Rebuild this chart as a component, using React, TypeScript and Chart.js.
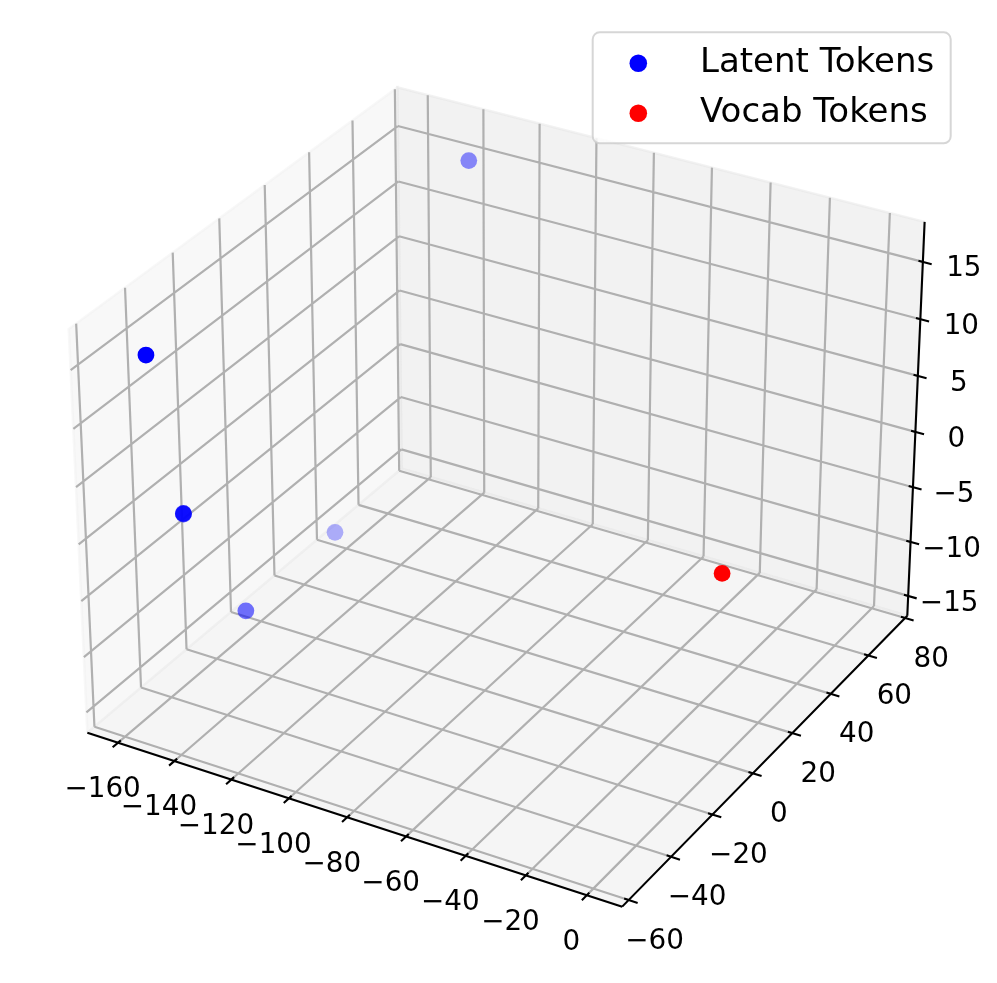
import React, { useEffect, useRef } from 'react';
import { Chart, registerables } from 'chart.js';

Chart.register(...registerables);

// ---------------- data ----------------
const latentX = [-149.6, -159.9, -150.9, -162.7, -154.3, -140.4];
const latentY = [-57.3, -32.3, -42.9, 38.1, -13.5, 74.6];
const latentZ = [16.9, -1.6, 0.9, -15.2, -13.1, 14.8];

const vocabX = [3.2];
const vocabY = [-5.3];
const vocabZ = [1.15];

const xTicks = [-160, -140, -120, -100, -80, -60, -40, -20, 0];
const yTicks = [-60, -40, -20, 0, 20, 40, 60, 80];
const zTicks = [-15, -10, -5, 0, 5, 10, 15];

const xLim = [-171, 11.5];
const yLim = [-63, 81.2];
const zLim = [-16.85, 18.45];

const seriesNames = ['Latent Tokens', 'Vocab Tokens'];
const seriesRGB = ['0,0,255', '255,0,0'];

// ---------------- view / layout ----------------
const W = 997;
const H = 983;
const ELEV = 30;
const AZIM = -60;
const DIST = 10;
const CX = 504.6;
const CY = 478.1;
const SX = 5363;
const SY = 5368;
const TICK_FONT = 27.8;
const LEGEND_FONT = 34;
const FONT_FAMILY = '"DejaVu Sans", "Liberation Sans", sans-serif';

type V3 = [number, number, number];
const dot = (a: number[], b: number[]) => a[0] * b[0] + a[1] * b[1] + a[2] * b[2];
const cross = (a: number[], b: number[]): V3 => [
  a[1] * b[2] - a[2] * b[1],
  a[2] * b[0] - a[0] * b[2],
  a[0] * b[1] - a[1] * b[0],
];
const unit = (a: number[]): V3 => {
  const n = Math.hypot(a[0], a[1], a[2]);
  return [a[0] / n, a[1] / n, a[2] / n];
};

const boxK = 1.8294640721620434 / Math.hypot(4, 4, 3);
const HALF = [2 * boxK, 2 * boxK, 1.5 * boxK];
const elR = (ELEV * Math.PI) / 180;
const azR = (AZIM * Math.PI) / 180;
const VW: V3 = [Math.cos(elR) * Math.cos(azR), Math.cos(elR) * Math.sin(azR), Math.sin(elR)];
const VU = unit(cross([0, 0, 1], VW));
const VV = cross(VW, VU);

function project(x: number, y: number, z: number) {
  const q = [
    ((2 * (x - xLim[0])) / (xLim[1] - xLim[0]) - 1) * HALF[0],
    ((2 * (y - yLim[0])) / (yLim[1] - yLim[0]) - 1) * HALF[1],
    ((2 * (z - zLim[0])) / (zLim[1] - zLim[0]) - 1) * HALF[2],
  ];
  const depth = dot(VW, q);
  const den = DIST - depth;
  return { x: dot(VU, q) / den, y: dot(VV, q) / den, depth };
}

const P = (x: number, y: number, z: number) => {
  const p = project(x, y, z);
  return { x: p.x, y: p.y };
};
const GAP = { x: null as any, y: null as any };

function segs(list: [V3, V3][]) {
  const out: any[] = [];
  list.forEach(([a, b]) => {
    out.push(P(a[0], a[1], a[2]));
    out.push(P(b[0], b[1], b[2]));
    out.push(GAP);
  });
  return out;
}

const [x0, x1] = xLim;
const [y0, y1] = yLim;
const [z0, z1] = zLim;
const dx = 0.08 * (x1 - x0);
const dy = 0.08 * (y1 - y0);

const fmt = (v: number) => (v < 0 ? '\u2212' + Math.abs(v) : String(v));

function buildDatasets() {
  const poly = (pts: V3[]) => [...pts, pts[0]].map((p) => P(p[0], p[1], p[2]));
  const paneX = poly([[x0, y0, z0], [x0, y1, z0], [x0, y1, z1], [x0, y0, z1]]);
  const paneY = poly([[x0, y1, z0], [x1, y1, z0], [x1, y1, z1], [x0, y1, z1]]);
  const paneZ = poly([[x0, y0, z0], [x1, y0, z0], [x1, y1, z0], [x0, y1, z0]]);

  const gridX = segs([
    ...yTicks.map((t) => [[x0, t, z0], [x0, t, z1]] as [V3, V3]),
    ...zTicks.map((t) => [[x0, y0, t], [x0, y1, t]] as [V3, V3]),
  ]);
  const gridY = segs([
    ...xTicks.map((t) => [[t, y1, z0], [t, y1, z1]] as [V3, V3]),
    ...zTicks.map((t) => [[x0, y1, t], [x1, y1, t]] as [V3, V3]),
  ]);
  const gridZ = segs([
    ...xTicks.map((t) => [[t, y0, z0], [t, y1, z0]] as [V3, V3]),
    ...yTicks.map((t) => [[x0, t, z0], [x1, t, z0]] as [V3, V3]),
  ]);
  const axes = segs([
    [[x0, y0, z0], [x1, y0, z0]],
    [[x1, y0, z0], [x1, y1, z0]],
    [[x1, y1, z0], [x1, y1, z1]],
  ]);
  const ticks = segs([
    ...xTicks.map((t) => [[t, y0 - 0.2 * dy, z0], [t, y0 + 0.1 * dy, z0]] as [V3, V3]),
    ...yTicks.map((t) => [[x1 + 0.2 * dx, t, z0], [x1 - 0.1 * dx, t, z0]] as [V3, V3]),
    ...zTicks.map((t) => [[x1 + 0.2 * dx, y1, t], [x1 - 0.1 * dx, y1, t]] as [V3, V3]),
  ]);

  const pointSet = (xs: number[], ys: number[], zs: number[], rgb: string) => {
    const pr = xs.map((_, i) => project(xs[i], ys[i], zs[i]));
    const ds = pr.map((p) => p.depth);
    const dmin = Math.min(...ds);
    const dmax = Math.max(...ds);
    const order = pr.map((_, i) => i).sort((a, b) => ds[a] - ds[b]);
    const data = order.map((i) => ({ x: pr[i].x, y: pr[i].y }));
    const colors = order.map((i) => {
      const n = dmax > dmin ? (dmax - ds[i]) / (dmax - dmin) : 0;
      const a = 1 - 0.7 * n;
      return `rgba(${rgb},${a.toFixed(3)})`;
    });
    return { data, colors };
  };
  const lat = pointSet(latentX, latentY, latentZ, seriesRGB[0]);
  const voc = pointSet(vocabX, vocabY, vocabZ, seriesRGB[1]);

  const line = (data: any[], color: string, width: number, order: number) => ({
    data,
    showLine: true,
    borderColor: color,
    borderWidth: width,
    pointRadius: 0,
    pointHoverRadius: 0,
    fill: false,
    tension: 0,
    spanGaps: false,
    order,
  });
  const pane = (data: any[], color: string, order: number) => ({
    data,
    showLine: true,
    borderColor: color,
    borderWidth: 2.5,
    backgroundColor: color,
    fill: 'shape',
    pointRadius: 0,
    pointHoverRadius: 0,
    tension: 0,
    order,
  });

  return [
    {
      label: seriesNames[1],
      data: voc.data,
      backgroundColor: voc.colors,
      borderWidth: 0,
      pointRadius: 8.4,
      pointHoverRadius: 8.4,
      showLine: false,
      order: 1,
    },
    {
      label: seriesNames[0],
      data: lat.data,
      backgroundColor: lat.colors,
      borderWidth: 0,
      pointRadius: 8.4,
      pointHoverRadius: 8.4,
      showLine: false,
      order: 2,
    },
    line(ticks, '#000000', 2.1, 10),
    line(axes, '#000000', 2.1, 11),
    line(gridZ, '#b0b0b0', 2.2, 20),
    line(gridY, '#b0b0b0', 2.2, 21),
    line(gridX, '#b0b0b0', 2.2, 22),
    pane(paneZ, 'rgba(236,236,236,0.5)', 30),
    pane(paneY, 'rgba(230,230,230,0.5)', 31),
    pane(paneX, 'rgba(242,242,242,0.5)', 32),
  ];
}

const labelPlugin = {
  id: 'axisLabels3d',
  afterDraw(chart: any) {
    const ctx: CanvasRenderingContext2D = chart.ctx;
    const sx = chart.scales.x;
    const sy = chart.scales.y;
    const pix = (x: number, y: number, z: number) => {
      const p = project(x, y, z);
      return [sx.getPixelForValue(p.x), sy.getPixelForValue(p.y)];
    };
    ctx.save();
    ctx.font = `${TICK_FONT}px ${FONT_FAMILY}`;
    ctx.fillStyle = '#000';
    ctx.textAlign = 'center';
    ctx.textBaseline = 'alphabetic';
    const base = 0.3645 * TICK_FONT;
    xTicks.forEach((t) => {
      const [X, Y] = pix(t, y0, z0);
      ctx.fillText(fmt(t), X - 15.5, Y + 44.3 + base);
    });
    yTicks.forEach((t) => {
      const [X, Y] = pix(x1, t, z0);
      ctx.fillText(fmt(t), X + 26, Y + 38.5 + base);
    });
    zTicks.forEach((t) => {
      const [X, Y] = pix(x1, y1, t);
      ctx.fillText(fmt(t), X + 41, Y + 4.5 + base);
    });

    // legend
    const L = 592.7, T = 32.3, R = 950.7, B = 143.3, r = 7;
    ctx.beginPath();
    ctx.moveTo(L + r, T);
    ctx.lineTo(R - r, T);
    ctx.arcTo(R, T, R, T + r, r);
    ctx.lineTo(R, B - r);
    ctx.arcTo(R, B, R - r, B, r);
    ctx.lineTo(L + r, B);
    ctx.arcTo(L, B, L, B - r, r);
    ctx.lineTo(L, T + r);
    ctx.arcTo(L, T, L + r, T, r);
    ctx.closePath();
    ctx.fillStyle = 'rgba(255,255,255,0.8)';
    ctx.fill();
    ctx.strokeStyle = 'rgba(204,204,204,0.8)';
    ctx.lineWidth = 2;
    ctx.stroke();

    ctx.font = `${LEGEND_FONT}px ${FONT_FAMILY}`;
    ctx.textAlign = 'left';
    ctx.fillStyle = '#000';
    const rows = [
      { cy: 63.3, base: 72 },
      { cy: 113.3, base: 122 },
    ];
    seriesNames.forEach((name, i) => {
      ctx.beginPath();
      ctx.arc(638.3, rows[i].cy, 8.8, 0, Math.PI * 2);
      ctx.fillStyle = `rgb(${seriesRGB[i]})`;
      ctx.fill();
      ctx.fillStyle = '#000';
      ctx.fillText(name, 700, rows[i].base);
    });
    ctx.restore();
  },
};

export default function App() {
  const ref = useRef<HTMLCanvasElement | null>(null);
  useEffect(() => {
    if (!ref.current) return;
    const chart = new Chart(ref.current, {
      type: 'scatter',
      data: { datasets: buildDatasets() as any },
      options: {
        animation: false,
        responsive: false,
        devicePixelRatio: 1,
        events: [],
        layout: { padding: 0, autoPadding: false },
        scales: {
          x: {
            type: 'linear',
            display: false,
            bounds: 'data',
            min: -CX / SX,
            max: (W - CX) / SX,
          },
          y: {
            type: 'linear',
            display: false,
            bounds: 'data',
            min: (CY - H) / SY,
            max: CY / SY,
          },
        },
        plugins: {
          legend: { display: false },
          tooltip: { enabled: false },
        },
      } as any,
      plugins: [labelPlugin],
    });
    return () => chart.destroy();
  }, []);
  return (
    <div style={{ position: 'fixed', left: 0, top: 0, width: W, height: H, background: '#fff' }}>
      <canvas ref={ref} width={W} height={H} style={{ display: 'block', width: W, height: H }} />
    </div>
  );
}
